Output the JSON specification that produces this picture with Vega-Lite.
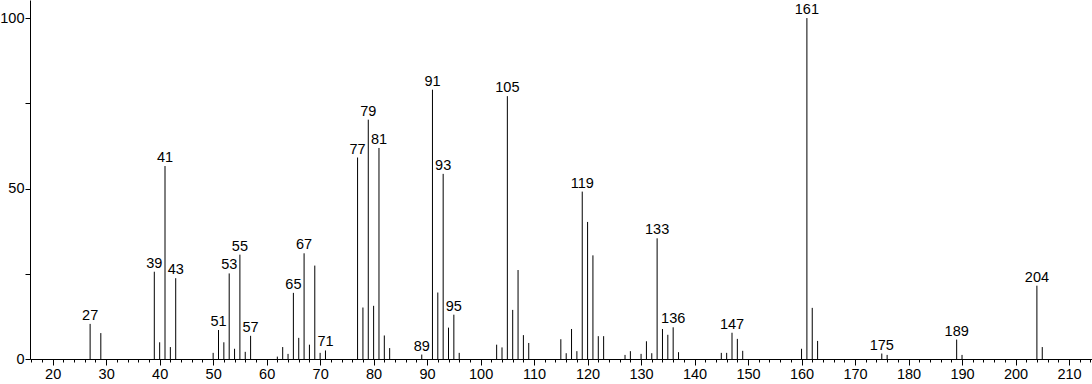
{
  "$schema": "https://vega.github.io/schema/vega-lite/v6.json",
  "autosize": "none",
  "width": 1062,
  "height": 359,
  "padding": {"left": 30, "top": 0, "right": 0, "bottom": 25},
  "background": "white",
  "config": {
    "view": {"stroke": null},
    "axis": {"grid": false, "domainColor": "#000", "tickColor": "#000", "labelColor": "#000", "labelFont": "Liberation Sans", "labelFontSize": 14.5, "title": null}
  },
  "data": {"values": [
    {"mz": 27, "intensity": 10.3, "label": "27"},
    {"mz": 29, "intensity": 7.6, "label": ""},
    {"mz": 39, "intensity": 25.6, "label": "39"},
    {"mz": 40, "intensity": 4.9, "label": ""},
    {"mz": 41, "intensity": 56.6, "label": "41"},
    {"mz": 42, "intensity": 3.5, "label": ""},
    {"mz": 43, "intensity": 23.7, "label": "43"},
    {"mz": 50, "intensity": 1.8, "label": ""},
    {"mz": 51, "intensity": 8.5, "label": "51"},
    {"mz": 52, "intensity": 4.9, "label": ""},
    {"mz": 53, "intensity": 25.1, "label": "53"},
    {"mz": 54, "intensity": 3.0, "label": ""},
    {"mz": 55, "intensity": 30.6, "label": "55"},
    {"mz": 56, "intensity": 2.1, "label": ""},
    {"mz": 57, "intensity": 6.8, "label": "57"},
    {"mz": 62, "intensity": 0.7, "label": ""},
    {"mz": 63, "intensity": 3.5, "label": ""},
    {"mz": 64, "intensity": 1.5, "label": ""},
    {"mz": 65, "intensity": 19.4, "label": "65"},
    {"mz": 66, "intensity": 6.2, "label": ""},
    {"mz": 67, "intensity": 31.0, "label": "67"},
    {"mz": 68, "intensity": 4.2, "label": ""},
    {"mz": 69, "intensity": 27.4, "label": ""},
    {"mz": 70, "intensity": 1.8, "label": ""},
    {"mz": 71, "intensity": 2.5, "label": "71"},
    {"mz": 77, "intensity": 59.1, "label": "77"},
    {"mz": 78, "intensity": 15.1, "label": ""},
    {"mz": 79, "intensity": 70.2, "label": "79"},
    {"mz": 80, "intensity": 15.6, "label": ""},
    {"mz": 81, "intensity": 61.9, "label": "81"},
    {"mz": 82, "intensity": 6.9, "label": ""},
    {"mz": 83, "intensity": 3.2, "label": ""},
    {"mz": 89, "intensity": 1.3, "label": "89"},
    {"mz": 91, "intensity": 79.0, "label": "91"},
    {"mz": 92, "intensity": 19.5, "label": ""},
    {"mz": 93, "intensity": 54.3, "label": "93"},
    {"mz": 94, "intensity": 9.2, "label": ""},
    {"mz": 95, "intensity": 13.0, "label": "95"},
    {"mz": 96, "intensity": 1.8, "label": ""},
    {"mz": 103, "intensity": 4.2, "label": ""},
    {"mz": 104, "intensity": 3.4, "label": ""},
    {"mz": 105, "intensity": 77.1, "label": "105"},
    {"mz": 106, "intensity": 14.4, "label": ""},
    {"mz": 107, "intensity": 26.1, "label": ""},
    {"mz": 108, "intensity": 7.0, "label": ""},
    {"mz": 109, "intensity": 4.7, "label": ""},
    {"mz": 115, "intensity": 5.8, "label": ""},
    {"mz": 116, "intensity": 1.7, "label": ""},
    {"mz": 117, "intensity": 8.8, "label": ""},
    {"mz": 118, "intensity": 2.3, "label": ""},
    {"mz": 119, "intensity": 49.1, "label": "119"},
    {"mz": 120, "intensity": 40.2, "label": ""},
    {"mz": 121, "intensity": 30.4, "label": ""},
    {"mz": 122, "intensity": 6.7, "label": ""},
    {"mz": 123, "intensity": 6.7, "label": ""},
    {"mz": 127, "intensity": 1.2, "label": ""},
    {"mz": 128, "intensity": 2.3, "label": ""},
    {"mz": 130, "intensity": 1.5, "label": ""},
    {"mz": 131, "intensity": 5.2, "label": ""},
    {"mz": 132, "intensity": 1.7, "label": ""},
    {"mz": 133, "intensity": 35.4, "label": "133"},
    {"mz": 134, "intensity": 8.8, "label": ""},
    {"mz": 135, "intensity": 7.1, "label": ""},
    {"mz": 136, "intensity": 9.3, "label": "136"},
    {"mz": 137, "intensity": 2.0, "label": ""},
    {"mz": 145, "intensity": 1.8, "label": ""},
    {"mz": 146, "intensity": 1.8, "label": ""},
    {"mz": 147, "intensity": 7.7, "label": "147"},
    {"mz": 148, "intensity": 5.9, "label": ""},
    {"mz": 149, "intensity": 2.4, "label": ""},
    {"mz": 160, "intensity": 3.0, "label": ""},
    {"mz": 161, "intensity": 100, "label": "161"},
    {"mz": 162, "intensity": 15.0, "label": ""},
    {"mz": 163, "intensity": 5.3, "label": ""},
    {"mz": 175, "intensity": 1.6, "label": "175"},
    {"mz": 176, "intensity": 1.2, "label": ""},
    {"mz": 189, "intensity": 5.7, "label": "189"},
    {"mz": 190, "intensity": 1.2, "label": ""},
    {"mz": 204, "intensity": 21.5, "label": "204"},
    {"mz": 205, "intensity": 3.5, "label": ""}
  ]},
  "resolve": {"axis": {"x": "independent", "y": "independent"}},
  "layer": [
    {
      "mark": {"type": "rule", "color": "#000", "strokeWidth": 1},
      "encoding": {
        "x": {"field": "mz", "type": "quantitative", "scale": {"domain": [15.76, 214.3], "nice": false, "zero": false},
          "axis": {"orient": "bottom", "values": [20, 30, 40, 50, 60, 70, 80, 90, 100, 110, 120, 130, 140, 150, 160, 170, 180, 190, 200, 210], "tickSize": 6, "labelPadding": 2, "domainWidth": 1, "labelFlush": false}},
        "y": {"field": "intensity", "type": "quantitative", "scale": {"domain": [0, 105.3], "nice": false},
          "axis": {"orient": "left", "values": [0, 50, 100], "tickSize": 5, "labelPadding": 1, "labelFlush": false}},
        "y2": {"datum": 0}
      }
    },
    {
      "transform": [{"filter": "datum.label != ''"}],
      "mark": {"type": "text", "font": "Liberation Sans", "fontSize": 14.5, "color": "#000", "baseline": "alphabetic", "align": "center", "dy": -4},
      "encoding": {
        "x": {"field": "mz", "type": "quantitative",
          "axis": {"orient": "bottom", "values": [16, 18, 22, 24, 26, 28, 32, 34, 36, 38, 42, 44, 46, 48, 52, 54, 56, 58, 62, 64, 66, 68, 72, 74, 76, 78, 82, 84, 86, 88, 92, 94, 96, 98, 102, 104, 106, 108, 112, 114, 116, 118, 122, 124, 126, 128, 132, 134, 136, 138, 142, 144, 146, 148, 152, 154, 156, 158, 162, 164, 166, 168, 172, 174, 176, 178, 182, 184, 186, 188, 192, 194, 196, 198, 202, 204, 206, 208, 212, 214], "tickSize": 3, "labels": false, "domain": false}},
        "y": {"field": "intensity", "type": "quantitative",
          "axis": {"orient": "left", "values": [25, 75], "tickSize": 5, "labels": false, "domain": false}},
        "text": {"field": "label"}
      }
    }
  ]
}
